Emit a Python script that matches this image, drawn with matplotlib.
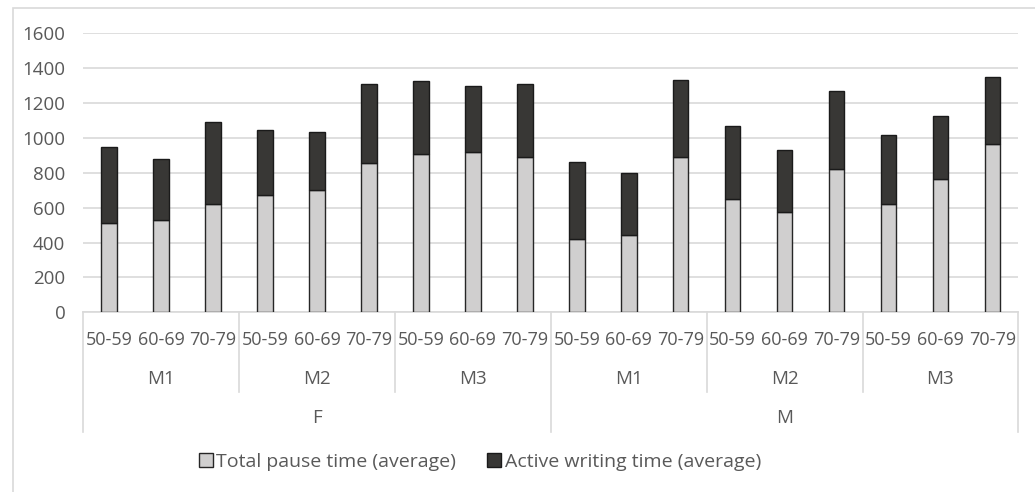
import numpy as np
import matplotlib.pyplot as plt
from matplotlib.patches import Rectangle

plt.rcParams['font.family'] = ['Open Sans', 'DejaVu Sans']

ages = ['50-59', '60-69', '70-79']
modes = ['M1', 'M2', 'M3']
sexes = ['F', 'M']

# average times per sex / mode / age band, in order F-M1 ... M-M3
pause = [515, 529, 619, 671, 700, 858, 908, 919, 892,
         418, 443, 889, 651, 575, 824, 623, 763, 967]
active = [435, 348, 470, 374, 334, 451, 416, 377, 419,
          442, 356, 445, 417, 354, 447, 392, 363, 380]

text_col = '#595959'
grid_col = '#d9d9d9'

fig = plt.figure(figsize=(10.35, 4.92), dpi=100)
ax = fig.add_axes([0.0805, 0.3652, 0.9034, 0.5671])

# light frame around the chart area
fig.patches.append(Rectangle((13 / 1035, -0.2), 1.2, 1.2 - 8 / 492,
                             transform=fig.transFigure, fill=False,
                             edgecolor=grid_col, linewidth=1.2))

x = np.arange(len(pause))
ax.bar(x, pause, width=0.3, color='#d0cfcf', edgecolor='#262626',
       linewidth=1, label='Total pause time (average)', zorder=3)
ax.bar(x, active, width=0.3, bottom=pause, color='#383735', edgecolor='#1a1a1a',
       linewidth=1, label='Active writing time (average)', zorder=3)

ax.set_xlim(-0.5, len(pause) - 0.5)
ax.set_ylim(0, 1600)
ax.set_yticks(range(0, 1601, 200))
ax.yaxis.grid(True, color=grid_col, linewidth=1.2)
ax.set_axisbelow(True)
for s in ['top', 'right', 'left']:
    ax.spines[s].set_visible(False)
ax.spines['bottom'].set_color(grid_col)
ax.spines['bottom'].set_linewidth(1.2)
ax.tick_params(axis='y', length=0, pad=13, labelsize=13.5, labelcolor=text_col)
ax.set_xticks([])

# three-level category axis below the bars
tr = ax.get_xaxis_transform()
for i in range(len(pause)):
    ax.text(i, -0.1, ages[i % 3], transform=tr, ha='center', va='center',
            fontsize=13, color=text_col)
for g in range(6):
    ax.text(g * 3 + 1, -0.24, modes[g % 3], transform=tr, ha='center',
            va='center', fontsize=13.5, color=text_col)
for k, s in enumerate(sexes):
    ax.text(k * 9 + 4, -0.38, s, transform=tr, ha='center', va='center',
            fontsize=13.5, color=text_col)
for b in range(7):
    xb = b * 3 - 0.5
    bottom = -0.428 if b % 3 == 0 else -0.285
    ax.plot([xb, xb], [0, bottom], transform=tr, color=grid_col,
            linewidth=1.2, clip_on=False)

leg = fig.legend(loc='center', bbox_to_anchor=(0.4638, 0.061), ncol=2,
                 frameon=False, fontsize=14, handlelength=0.7,
                 handleheight=0.7, handletextpad=0.2, columnspacing=1.6,
                 labelcolor=text_col)

fig.savefig('out.png', dpi=100)
